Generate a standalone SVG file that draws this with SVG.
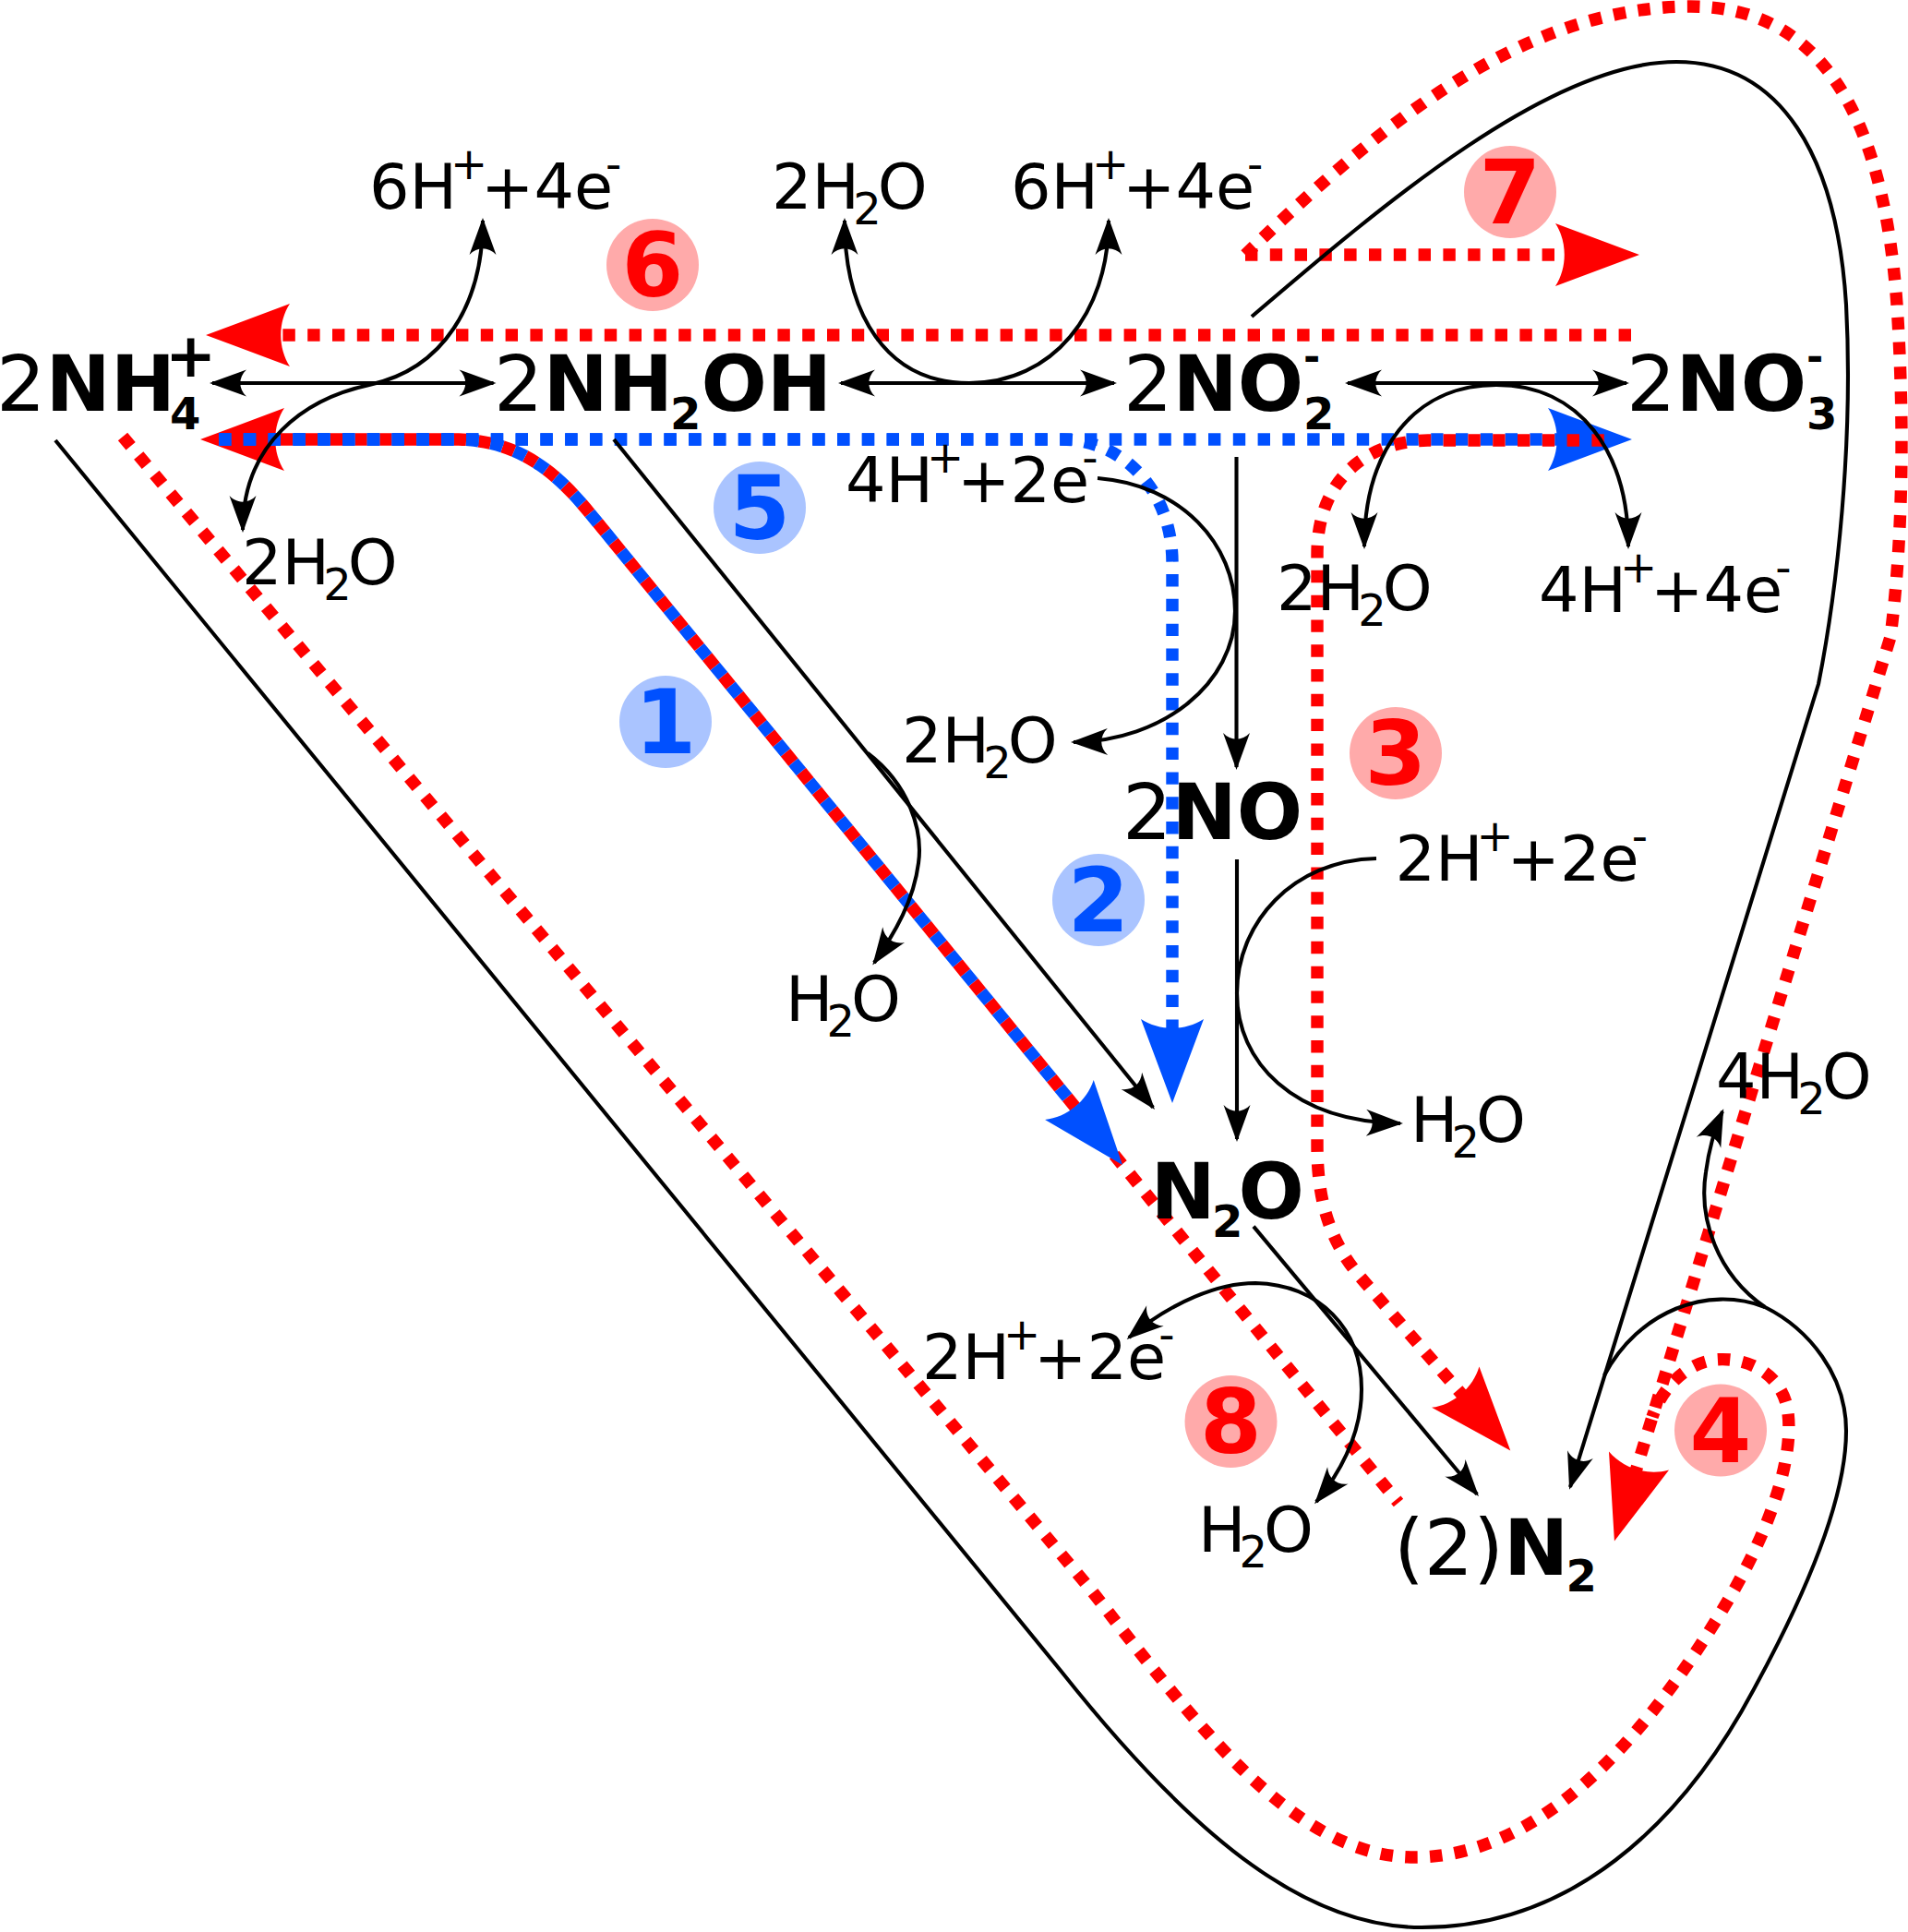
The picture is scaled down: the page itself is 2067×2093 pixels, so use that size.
<svg xmlns="http://www.w3.org/2000/svg" width="2067" height="2093" viewBox="0 0 2067 2093">
<style>
text { font-family: "DejaVu Sans", "Liberation Sans", sans-serif; fill: #000; }
.lab { font-size: 68.5px; }
.big { font-size: 84px; }
.b { font-weight: bold; }
.s { font-size: 48px; }
.num { font-size: 96px; font-weight: bold; text-anchor: middle; }
.conn { fill: none; stroke: #000; stroke-width: 4.1; }
.red { fill: none; stroke: #ff0000; stroke-width: 13.4; stroke-dasharray: 13.4 13.4; }
.blue { fill: none; stroke: #0050ff; stroke-width: 13.4; stroke-dasharray: 13.4 13.4; }
.cr { fill: #ffaaaa; }
.cb { fill: #aac4ff; }
.tr { fill: #ff0000; }
.tb { fill: #0050ff; }
</style>
<defs>
<marker id="ak" viewBox="-44 -16 48 32" markerWidth="48" markerHeight="32" refX="-3" refY="0" orient="auto-start-reverse" markerUnits="userSpaceOnUse">
<path d="M0,0 L-40,-14.5 C-31,-6 -31,6 -40,14.5 Z" fill="#000"/>
</marker>
<marker id="mr" viewBox="-2 -36 96 72" markerWidth="96" markerHeight="72" refX="12" refY="0" orient="auto" markerUnits="userSpaceOnUse">
<path d="M91,0 L0,-34 C13,-14 13,14 0,34 Z" fill="#ff0000"/>
</marker>
<marker id="mrs" viewBox="-2 -36 96 72" markerWidth="96" markerHeight="72" refX="71" refY="0" orient="auto-start-reverse" markerUnits="userSpaceOnUse">
<path d="M91,0 L0,-34 C13,-14 13,14 0,34 Z" fill="#ff0000"/>
</marker>
<marker id="mb" viewBox="-2 -36 96 72" markerWidth="96" markerHeight="72" refX="12" refY="0" orient="auto" markerUnits="userSpaceOnUse">
<path d="M91,0 L0,-34 C13,-14 13,14 0,34 Z" fill="#0050ff"/>
</marker>
</defs>
<rect width="2067" height="2093" fill="#fff"/>

<g id="pathways">
<path id="path6" class="red" d="M1767,363 L302,363" marker-end="url(#mr)"/>
<path id="path7" class="red" d="M1349,276 L1697,276" marker-end="url(#mr)"/>
<path id="path4-outer" class="red" d="M1349,276 C1480,150 1640,8 1830,7 C1970,6 2040,120 2055,330 C2063,450 2062,580 2048,690 L1772,1594" marker-end="url(#mr)"/>
<path id="path4-inner" class="red" d="M133,473 L1180,1720 C1290,1860 1400,2012 1532,2012 C1680,2012 1800,1860 1880,1720 C1930,1630 1945,1560 1935,1520 C1925,1485 1890,1470 1858,1473 C1825,1477 1800,1505 1790,1535"/>
<path id="path8" class="red" style="stroke-dashoffset:13.4" d="M237,476 L497,476 C580,478 620,533 653,573 L1515,1628" marker-start="url(#mrs)"/>
<path id="path5" class="blue" d="M237,476 L1689,476" marker-end="url(#mb)"/>
<path id="path2" class="blue" d="M237,476 L1150,476 C1215,476 1270,530 1270,610 L1270,1116" marker-end="url(#mb)"/>
<path id="path1" class="blue" d="M237,476 L497,476 C580,478 620,533 653,573 L1166,1200.9" marker-end="url(#mb)"/>
<path id="path3" class="red" d="M1737.8,477 L1547,477 C1480,478 1427,520 1427,600 L1427,1240 C1427,1300 1440,1345 1475,1385 L1584.6,1511.7" marker-end="url(#mr)"/>
</g>

<g id="connectors">
<path class="conn" d="M230,415 L534.5,415" marker-start="url(#ak)" marker-end="url(#ak)"/>
<path class="conn" d="M911,415 L1207,415" marker-start="url(#ak)" marker-end="url(#ak)"/>
<path class="conn" d="M1460,415 L1762,415" marker-start="url(#ak)" marker-end="url(#ak)"/>
<path class="conn" d="M1339.5,495 L1339.5,831" marker-end="url(#ak)"/>
<path class="conn" d="M1340,931 L1340,1234" marker-end="url(#ak)"/>
<path class="conn" d="M665,476 L1249.1,1199.7" marker-end="url(#ak)"/>
<path class="conn" d="M1358,1328.6 L1600.1,1618.7" marker-end="url(#ak)"/>
<path class="conn" d="M523,239 C523,330 480,400 400,417 C330,432 263,480 263,574" marker-start="url(#ak)" marker-end="url(#ak)"/>
<path class="conn" d="M915,239 C915,340 960,415 1050,415 C1140,415 1201,340 1201,239" marker-start="url(#ak)" marker-end="url(#ak)"/>
<path class="conn" d="M1478,592 C1478,490 1530,417 1621,417 C1712,417 1764,490 1764,592" marker-start="url(#ak)" marker-end="url(#ak)"/>
<path class="conn" d="M1189,518 C1280,525 1338,590 1338,662 C1338,740 1260,803 1163,804" marker-end="url(#ak)"/>
<path class="conn" d="M1491,930 C1400,932 1340,1000 1340,1076 C1340,1150 1400,1215 1517,1217" marker-end="url(#ak)"/>
<path class="conn" d="M940,816 C985,850 1000,900 995,935 C990,975 970,1010 947,1043" marker-end="url(#ak)"/>
<path class="conn" d="M1223,1449 C1270,1410 1320,1390 1360,1390 C1430,1392 1475,1440 1475,1505 C1475,1555 1452,1595 1426,1627" marker-start="url(#ak)" marker-end="url(#ak)"/>
<path class="conn" d="M60,477 L1150,1811 C1300,2000 1420,2088 1540,2088 C1700,2088 1820,1980 1900,1830 C1960,1720 2000,1620 2000,1550 C2000,1490 1960,1440 1912,1416 C1860,1380 1840,1320 1848,1270 C1852,1240 1858,1222 1866,1204" marker-end="url(#ak)"/>
<path class="conn" d="M1356,343 C1500,220 1680,67 1816,67 C1930,67 1990,170 2000,330 C2008,480 1990,640 1970,741 L1701,1611" marker-end="url(#ak)"/>
<path class="conn" d="M1912,1416 C1850,1392 1775,1420 1738,1490"/>
</g>

<g id="n-nh4"><text class="big" y="445"><tspan x="-4">2</tspan><tspan class="b">NH</tspan><tspan class="b s" x="184" y="465">4</tspan><tspan class="b" x="179" y="408" font-size="66">+</tspan></text></g>
<g id="n-nh2oh"><text class="big" y="445"><tspan x="535">2</tspan><tspan class="b">NH</tspan><tspan class="b s" x="726" y="465">2</tspan><tspan class="b" x="759.4" y="445">OH</tspan></text></g>
<g id="n-no2"><text class="big" y="445"><tspan x="1217">2</tspan><tspan class="b">NO</tspan><tspan class="b s" x="1412" y="465">2</tspan><tspan class="b" x="1412" y="402" font-size="44">-</tspan></text></g>
<g id="n-no3"><text class="big" y="445"><tspan x="1762">2</tspan><tspan class="b">NO</tspan><tspan class="b s" x="1957" y="465">3</tspan><tspan class="b" x="1957" y="402" font-size="44">-</tspan></text></g>
<g id="n-no"><text class="big" x="1216" y="909">2<tspan class="b">NO</tspan></text></g>
<g id="n-n2o"><text class="big" y="1320"><tspan class="b" x="1246.5">N</tspan><tspan class="b s" x="1313" y="1340">2</tspan><tspan class="b" x="1341.5" y="1320">O</tspan></text></g>
<g id="n-n2"><text class="big" y="1706"><tspan x="1510">(2)</tspan><tspan class="b">N</tspan><tspan class="b s" x="1696.4" y="1724">2</tspan></text></g>

<g id="side-labels">
<text class="lab" y="226"><tspan x="400">6H</tspan><tspan class="s" x="488" y="194">+</tspan><tspan x="521" y="226">+4e</tspan><tspan class="s" x="656" y="194">-</tspan></text>
<text class="lab" y="226"><tspan x="836">2H</tspan><tspan class="s" x="924.2" y="243">2</tspan><tspan x="950.7" y="226">O</tspan></text>
<text class="lab" y="226"><tspan x="1095">6H</tspan><tspan class="s" x="1183" y="194">+</tspan><tspan x="1216" y="226">+4e</tspan><tspan class="s" x="1351" y="194">-</tspan></text>
<text class="lab" y="544"><tspan x="916">4H</tspan><tspan class="s" x="1004" y="512">+</tspan><tspan x="1037" y="544">+2e</tspan><tspan class="s" x="1172.3" y="512">-</tspan></text>
<text class="lab" y="826"><tspan x="977">2H</tspan><tspan class="s" x="1065.2" y="843">2</tspan><tspan x="1091.7" y="826">O</tspan></text>
<text class="lab" y="661"><tspan x="1383">2H</tspan><tspan class="s" x="1471.2" y="678">2</tspan><tspan x="1497.7" y="661">O</tspan></text>
<text class="lab" y="663"><tspan x="1667">4H</tspan><tspan class="s" x="1755" y="631">+</tspan><tspan x="1788" y="663">+4e</tspan><tspan class="s" x="1923.3" y="631">-</tspan></text>
<text class="lab" y="954"><tspan x="1511.5">2H</tspan><tspan class="s" x="1599.5" y="922">+</tspan><tspan x="1632.5" y="954">+2e</tspan><tspan class="s" x="1767.8" y="922">-</tspan></text>
<text class="lab" y="1237"><tspan x="1528">H</tspan><tspan class="s" x="1572.6" y="1254">2</tspan><tspan x="1599.1" y="1237">O</tspan></text>
<text class="lab" y="1106"><tspan x="851">H</tspan><tspan class="s" x="895.6" y="1123">2</tspan><tspan x="922.1" y="1106">O</tspan></text>
<text class="lab" y="633"><tspan x="262">2H</tspan><tspan class="s" x="350.2" y="650">2</tspan><tspan x="376.7" y="633">O</tspan></text>
<text class="lab" y="1494"><tspan x="999">2H</tspan><tspan class="s" x="1087" y="1462">+</tspan><tspan x="1120" y="1494">+2e</tspan><tspan class="s" x="1255.3" y="1462">-</tspan></text>
<text class="lab" y="1681"><tspan x="1298">H</tspan><tspan class="s" x="1342.6" y="1698">2</tspan><tspan x="1369.1" y="1681">O</tspan></text>
<text class="lab" y="1190"><tspan x="1859">4H</tspan><tspan class="s" x="1947.2" y="1207">2</tspan><tspan x="1973.7" y="1190">O</tspan></text>
</g>

<g id="step1"><circle class="cb" cx="721" cy="782" r="50"/><text class="num tb" x="721" y="816">1</text></g>
<g id="step2"><circle class="cb" cx="1190" cy="975" r="50"/><text class="num tb" x="1190" y="1009">2</text></g>
<g id="step3"><circle class="cr" cx="1512" cy="816" r="50"/><text class="num tr" x="1512" y="850">3</text></g>
<g id="step4"><circle class="cr" cx="1864" cy="1549.5" r="50"/><text class="num tr" x="1864" y="1583.5">4</text></g>
<g id="step5"><circle class="cb" cx="823" cy="550" r="50"/><text class="num tb" x="823" y="584">5</text></g>
<g id="step6"><circle class="cr" cx="707" cy="287" r="50"/><text class="num tr" x="707" y="321">6</text></g>
<g id="step7"><circle class="cr" cx="1636" cy="208" r="50"/><text class="num tr" x="1636" y="242">7</text></g>
<g id="step8"><circle class="cr" cx="1333.5" cy="1540" r="50"/><text class="num tr" x="1333.5" y="1574">8</text></g>
</svg>
